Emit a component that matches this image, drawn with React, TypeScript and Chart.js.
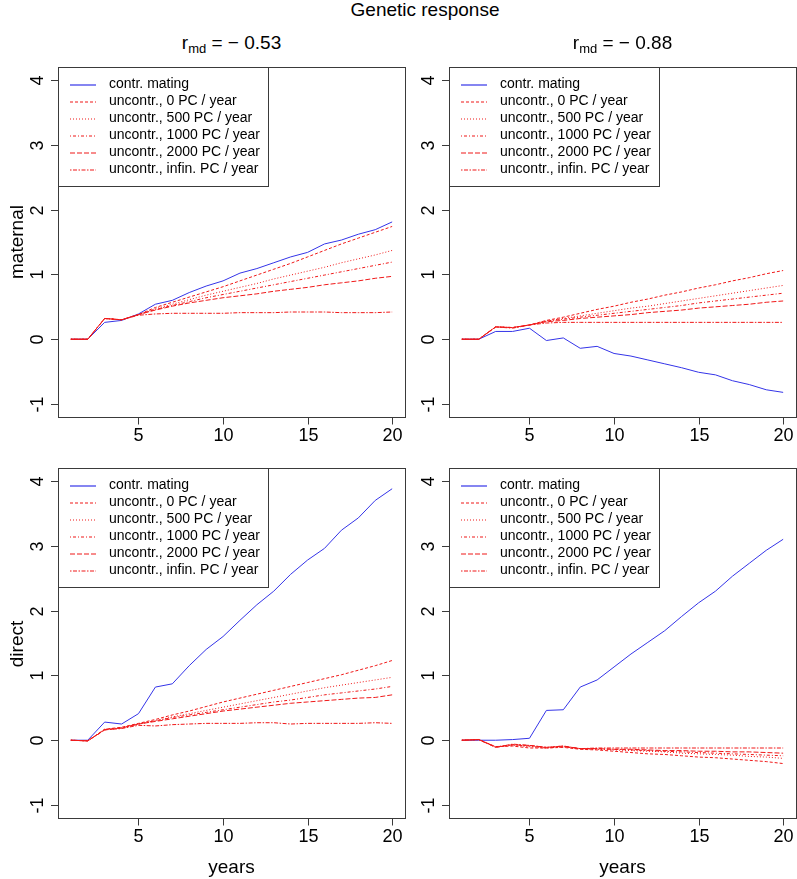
import React, { useEffect, useRef } from "react";
import { Chart, registerables } from "chart.js";

Chart.register(...registerables);

// ---------- data ----------
const years = [1, 2, 3, 4, 5, 6, 7, 8, 9, 10, 11, 12, 13, 14, 15, 16, 17, 18, 19, 20];
const xTicks = [5, 10, 15, 20];
const yTicks = [-1, 0, 1, 2, 3, 4];
const xMin = 0.24;
const xMax = 20.76;
const yMin = -1.2;
const yMax = 4.2;

const seriesLabels = [
  "contr. mating",
  "uncontr., 0 PC / year",
  "uncontr., 500 PC / year",
  "uncontr., 1000 PC / year",
  "uncontr., 2000 PC / year",
  "uncontr., infin. PC / year",
];
const rmdValues = [-0.53, -0.88];
const rowLabels = ["maternal", "direct"];
const mainTitle = "Genetic response";
const xTitle = "years";

// maternal, r_md = -0.53
const matA_contr = [0, 0, 0.26, 0.29, 0.39, 0.54, 0.6, 0.72, 0.82, 0.9, 1.02, 1.09, 1.18, 1.27, 1.34, 1.47, 1.53, 1.62, 1.69, 1.81];
const matA_u0 = [0, 0, 0.32, 0.3, 0.38, 0.49, 0.57, 0.65, 0.73, 0.81, 0.9, 0.99, 1.08, 1.17, 1.27, 1.37, 1.47, 1.56, 1.65, 1.74];
const matA_u500 = [0, 0, 0.32, 0.3, 0.38, 0.47, 0.54, 0.61, 0.68, 0.74, 0.8, 0.86, 0.93, 0.99, 1.05, 1.11, 1.18, 1.24, 1.3, 1.37];
const matA_u1000 = [0, 0, 0.32, 0.3, 0.38, 0.46, 0.52, 0.58, 0.64, 0.69, 0.74, 0.79, 0.84, 0.89, 0.94, 0.99, 1.04, 1.09, 1.14, 1.19];
const matA_u2000 = [0, 0, 0.32, 0.3, 0.38, 0.45, 0.51, 0.56, 0.6, 0.64, 0.67, 0.7, 0.74, 0.77, 0.8, 0.84, 0.87, 0.9, 0.94, 0.97];
const matA_uInf = [0, 0, 0.32, 0.3, 0.37, 0.39, 0.4, 0.4, 0.4, 0.4, 0.41, 0.41, 0.41, 0.42, 0.42, 0.42, 0.41, 0.41, 0.41, 0.42];

// maternal, r_md = -0.88
const matB_contr = [0, 0, 0.12, 0.12, 0.17, -0.02, 0.02, -0.14, -0.11, -0.22, -0.26, -0.32, -0.38, -0.44, -0.51, -0.55, -0.64, -0.7, -0.78, -0.82];
const matB_u0 = [0, 0, 0.19, 0.18, 0.22, 0.29, 0.34, 0.4, 0.46, 0.51, 0.57, 0.62, 0.68, 0.73, 0.79, 0.84, 0.9, 0.95, 1.01, 1.06];
const matB_u500 = [0, 0, 0.19, 0.18, 0.22, 0.28, 0.32, 0.36, 0.4, 0.44, 0.48, 0.51, 0.55, 0.59, 0.63, 0.67, 0.71, 0.75, 0.79, 0.83];
const matB_u1000 = [0, 0, 0.19, 0.18, 0.22, 0.28, 0.31, 0.34, 0.37, 0.4, 0.43, 0.46, 0.49, 0.52, 0.56, 0.59, 0.62, 0.65, 0.68, 0.71];
const matB_u2000 = [0, 0, 0.19, 0.18, 0.22, 0.27, 0.29, 0.32, 0.34, 0.36, 0.38, 0.41, 0.43, 0.45, 0.48, 0.5, 0.52, 0.54, 0.57, 0.59];
const matB_uInf = [0, 0, 0.19, 0.17, 0.22, 0.25, 0.26, 0.26, 0.26, 0.26, 0.26, 0.26, 0.26, 0.26, 0.26, 0.26, 0.26, 0.26, 0.26, 0.26];

// direct, r_md = -0.53
const dirA_contr = [0, 0, 0.28, 0.25, 0.41, 0.82, 0.87, 1.15, 1.4, 1.6, 1.85, 2.09, 2.3, 2.56, 2.78, 2.96, 3.24, 3.43, 3.7, 3.88];
const dirA_u0 = [0, -0.01, 0.17, 0.2, 0.26, 0.32, 0.39, 0.45, 0.52, 0.59, 0.65, 0.71, 0.77, 0.83, 0.89, 0.95, 1.01, 1.08, 1.15, 1.23];
const dirA_u500 = [0, -0.01, 0.17, 0.19, 0.25, 0.3, 0.36, 0.41, 0.46, 0.51, 0.56, 0.61, 0.66, 0.71, 0.76, 0.81, 0.85, 0.89, 0.93, 0.97];
const dirA_u1000 = [0, -0.01, 0.16, 0.19, 0.25, 0.3, 0.35, 0.39, 0.43, 0.47, 0.51, 0.55, 0.59, 0.62, 0.66, 0.7, 0.73, 0.76, 0.79, 0.83];
const dirA_u2000 = [0, -0.01, 0.16, 0.19, 0.25, 0.29, 0.33, 0.37, 0.41, 0.45, 0.48, 0.51, 0.54, 0.57, 0.59, 0.61, 0.63, 0.65, 0.66, 0.7];
const dirA_uInf = [0, -0.01, 0.16, 0.18, 0.23, 0.22, 0.24, 0.25, 0.26, 0.26, 0.26, 0.27, 0.27, 0.25, 0.26, 0.26, 0.26, 0.26, 0.27, 0.26];

// direct, r_md = -0.88
const dirB_contr = [0, 0, 0, 0.01, 0.03, 0.46, 0.47, 0.82, 0.93, 1.13, 1.33, 1.51, 1.69, 1.91, 2.12, 2.3, 2.53, 2.73, 2.93, 3.1];
const dirB_u0 = [0, 0.01, -0.1, -0.09, -0.12, -0.12, -0.11, -0.14, -0.15, -0.17, -0.19, -0.21, -0.22, -0.24, -0.26, -0.27, -0.29, -0.31, -0.33, -0.36];
const dirB_u500 = [0, 0.01, -0.1, -0.08, -0.1, -0.12, -0.1, -0.13, -0.14, -0.15, -0.16, -0.17, -0.18, -0.2, -0.21, -0.22, -0.23, -0.25, -0.26, -0.28];
const dirB_u1000 = [0, 0.01, -0.1, -0.07, -0.09, -0.12, -0.1, -0.13, -0.13, -0.14, -0.15, -0.16, -0.17, -0.18, -0.19, -0.2, -0.21, -0.22, -0.23, -0.24];
const dirB_u2000 = [0, 0.01, -0.11, -0.07, -0.08, -0.11, -0.09, -0.13, -0.13, -0.14, -0.14, -0.15, -0.16, -0.16, -0.17, -0.17, -0.18, -0.18, -0.19, -0.2];
const dirB_uInf = [0, 0.01, -0.11, -0.06, -0.08, -0.11, -0.09, -0.13, -0.12, -0.12, -0.12, -0.12, -0.12, -0.12, -0.12, -0.12, -0.12, -0.12, -0.12, -0.12];

// ---------- styles ----------
const FONT = "'Liberation Sans', Arial, Helvetica, sans-serif";
const BLUE = "#3434e8";
const RED = "#f01818";
const FRAME = "#3a3a3a";
const seriesColors = [BLUE, RED, RED, RED, RED, RED];
const seriesDash: number[][] = [[], [3, 2], [1, 2], [1, 2, 3, 2], [5, 2], [1.5, 1.5, 4, 1.5]];

const framePlugin = {
  id: "rframe",
  afterDraw(chart: any) {
    const ctx = chart.ctx as CanvasRenderingContext2D;
    const a = chart.chartArea;
    const xs = chart.scales.x;
    const ys = chart.scales.y;
    const L = Math.round(a.left);
    const T = Math.round(a.top);
    const R = Math.round(a.right);
    const B = Math.round(a.bottom);
    ctx.save();
    ctx.lineWidth = 1;
    ctx.setLineDash([]);

    // legend (top-left inside plot)
    const lw = 210;
    const lh = 119;
    ctx.fillStyle = "#ffffff";
    ctx.fillRect(L, T, lw, lh);
    ctx.strokeStyle = FRAME;
    ctx.strokeRect(L + 0.5, T + 0.5, lw, lh);
    const n = chart.data.datasets.length;
    for (let i = 0; i < n; i++) {
      const ds = chart.data.datasets[i];
      const yy = T + 17 + i * 17;
      ctx.save();
      ctx.lineWidth = 1.2;
      ctx.strokeStyle = seriesColors[i];
      ctx.setLineDash(seriesDash[i]);
      ctx.beginPath();
      ctx.moveTo(L + 12, yy + 1);
      ctx.lineTo(L + 38, yy + 1);
      ctx.stroke();
      ctx.restore();
      ctx.fillStyle = "#000000";
      ctx.font = `14px ${FONT}`;
      ctx.textAlign = "left";
      ctx.textBaseline = "middle";
      ctx.fillText(ds.label, L + 51, yy + 0.5);
    }

    // box
    ctx.setLineDash([]);
    ctx.strokeStyle = FRAME;
    ctx.strokeRect(L + 0.5, T + 0.5, R - L, B - T);

    // x ticks
    ctx.font = `18px ${FONT}`;
    ctx.fillStyle = "#000000";
    ctx.textAlign = "center";
    ctx.textBaseline = "middle";
    xTicks.forEach((v) => {
      const px = Math.round(xs.getPixelForValue(v)) + 0.5;
      ctx.beginPath();
      ctx.moveTo(px, B + 0.5);
      ctx.lineTo(px, B + 7.5);
      ctx.stroke();
      ctx.fillText(String(v), px, B + 19);
    });

    // y ticks (labels rotated, R style)
    yTicks.forEach((v) => {
      const py = Math.round(ys.getPixelForValue(v)) + 0.5;
      ctx.beginPath();
      ctx.moveTo(L - 7, py);
      ctx.lineTo(L + 0.5, py);
      ctx.stroke();
      ctx.save();
      ctx.translate(L - 20, py);
      ctx.rotate(-Math.PI / 2);
      ctx.fillText(String(v), 0, 0);
      ctx.restore();
    });
    ctx.restore();
  },
};

type PanelProps = {
  left: number;
  top: number;
  width: number;
  height: number;
  series: number[][];
};

function Panel({ left, top, width, height, series }: PanelProps) {
  const ref = useRef<HTMLCanvasElement>(null);
  useEffect(() => {
    const canvas = ref.current;
    if (!canvas) return;
    const datasets = series.map((vals, i) => ({
      label: seriesLabels[i],
      data: years.map((yr, k) => ({ x: yr, y: vals[k] })),
      borderColor: seriesColors[i],
      backgroundColor: seriesColors[i],
      borderDash: seriesDash[i],
      borderWidth: 1,
      pointRadius: 0,
      tension: 0,
      fill: false,
      order: i === 0 ? 1 : 0,
    }));
    const chart = new Chart(canvas, {
      type: "line",
      data: { datasets },
      options: {
        animation: false,
        responsive: false,
        devicePixelRatio: 1,
        events: [],
        layout: { padding: { left: 0, top: 7, right: width - 58 - 347, bottom: 0 } },
        plugins: { legend: { display: false }, tooltip: { enabled: false }, title: { display: false } },
        scales: {
          x: {
            type: "linear",
            min: xMin,
            max: xMax,
            afterBuildTicks: (s: any) => {
              s.ticks = xTicks.map((v) => ({ value: v }));
            },
            afterFit: (s: any) => {
              s.height = height - 7 - 350;
            },
            grid: { display: false },
            border: { display: false },
            ticks: { display: false },
          },
          y: {
            type: "linear",
            min: yMin,
            max: yMax,
            afterBuildTicks: (s: any) => {
              s.ticks = yTicks.map((v) => ({ value: v }));
            },
            afterFit: (s: any) => {
              s.width = 58;
            },
            grid: { display: false },
            border: { display: false },
            ticks: { display: false },
          },
        },
      },
      plugins: [framePlugin],
    } as any);
    return () => chart.destroy();
  }, []);
  return (
    <canvas
      ref={ref}
      width={width}
      height={height}
      style={{ position: "absolute", left, top, width, height, display: "block" }}
    />
  );
}

function Text({ x, y, size, rotate, children }: any) {
  return (
    <div
      style={{
        position: "absolute",
        left: x,
        top: y,
        transform: `translate(-50%, -50%)${rotate ? " rotate(-90deg)" : ""}`,
        fontSize: size,
        lineHeight: 1,
        whiteSpace: "nowrap",
        color: "#000",
        fontFamily: FONT,
      }}
    >
      {children}
    </div>
  );
}

function Rmd({ v }: { v: number }) {
  return (
    <span>
      r<span style={{ fontSize: 13, position: "relative", top: 4 }}>md</span>
      {" = \u2212 " + Math.abs(v).toFixed(2)}
    </span>
  );
}

export default function App() {
  const colCenters = [231.5, 622.5];
  const rowCenters = [242, 643.5];
  return (
    <div
      style={{
        position: "absolute",
        left: 0,
        top: 0,
        width: 797,
        height: 879,
        background: "#fff",
        overflow: "hidden",
        fontFamily: FONT,
      }}
    >
      <Panel left={0} top={60} width={410} height={400}
        series={[matA_contr, matA_u0, matA_u500, matA_u1000, matA_u2000, matA_uInf]} />
      <Panel left={391} top={60} width={406} height={400}
        series={[matB_contr, matB_u0, matB_u500, matB_u1000, matB_u2000, matB_uInf]} />
      <Panel left={0} top={461} width={410} height={405}
        series={[dirA_contr, dirA_u0, dirA_u500, dirA_u1000, dirA_u2000, dirA_uInf]} />
      <Panel left={391} top={461} width={406} height={405}
        series={[dirB_contr, dirB_u0, dirB_u500, dirB_u1000, dirB_u2000, dirB_uInf]} />

      <Text x={425} y={9} size={19}>{mainTitle}</Text>
      <Text x={colCenters[0]} y={42} size={19}><Rmd v={rmdValues[0]} /></Text>
      <Text x={colCenters[1]} y={42} size={19}><Rmd v={rmdValues[1]} /></Text>
      <Text x={16} y={rowCenters[0]} size={19} rotate>{rowLabels[0]}</Text>
      <Text x={16} y={rowCenters[1]} size={19} rotate>{rowLabels[1]}</Text>
      <Text x={colCenters[0]} y={866} size={19}>{xTitle}</Text>
      <Text x={colCenters[1]} y={866} size={19}>{xTitle}</Text>
    </div>
  );
}
